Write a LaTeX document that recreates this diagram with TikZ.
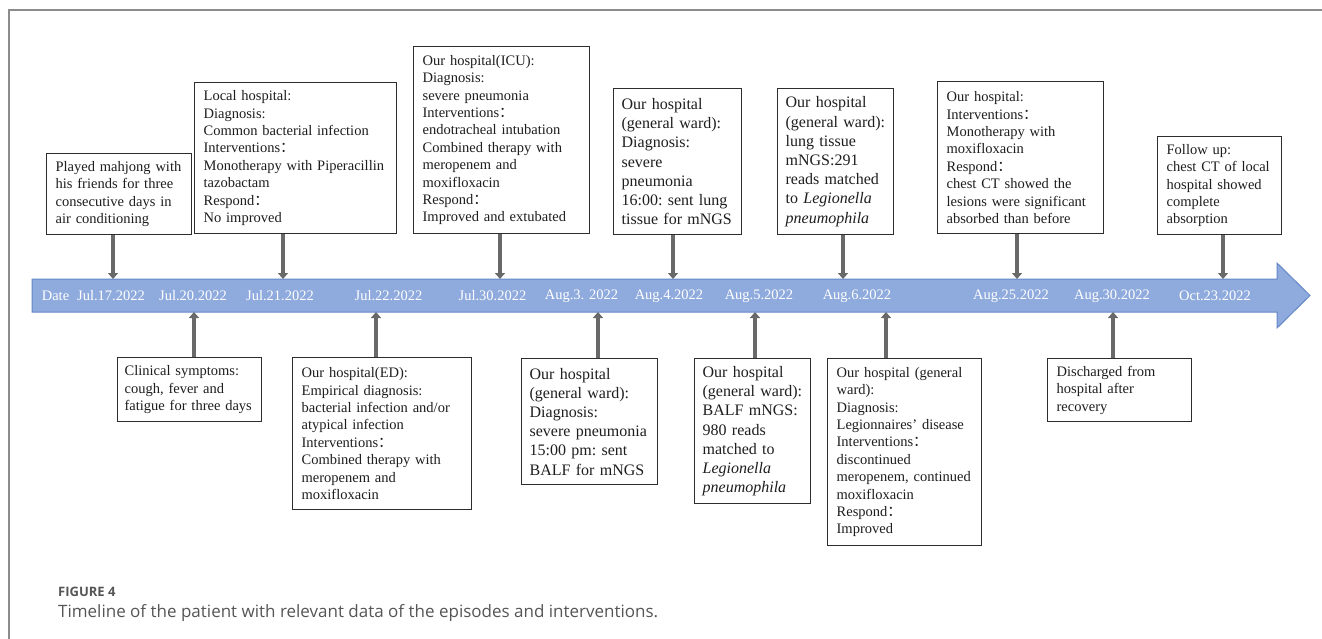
\documentclass[tikz,border=0pt]{standalone}
\usepackage{fontspec}
\setmainfont{Liberation Serif}
\newfontfamily\capfont{Open Sans}
\newfontfamily\cjkfont{Noto Sans CJK SC}
\newcommand{\fwc}{{\cjkfont ：}}
\usetikzlibrary{arrows.meta}
\definecolor{barfill}{RGB}{143,170,220}
\definecolor{baredge}{RGB}{100,135,200}
\definecolor{conncol}{RGB}{105,105,105}
\definecolor{boxedge}{RGB}{45,45,45}
\definecolor{boxtext}{RGB}{30,30,30}
\definecolor{frameg}{RGB}{140,140,140}
\definecolor{capg}{RGB}{85,85,85}
\tikzset{
  box/.style={draw=boxedge, line width=1.3pt, fill=white, align=left, anchor=north west,
    inner xsep=9pt, inner ysep=0pt, text=boxtext, font=\frenchspacing\fontsize{14.5}{17.4}\selectfont},
  bigbox/.style={box, inner xsep=8pt, font=\frenchspacing\fontsize{16}{19.2}\selectfont},
  datel/.style={text=white, inner sep=0pt, font=\rmfamily\fontsize{14.5}{17}\selectfont},
  conn/.style={draw=conncol, line width=4pt, -{Triangle[width=10pt,length=6pt]}},
  framel/.style={draw=frameg, line width=2pt},
  barshape/.style={fill=barfill, draw=baredge, line width=1pt},
}
\begin{document}
\begin{tikzpicture}[x=1pt,y=-1pt]
\useasboundingbox (0,0) rectangle (1322,639);
% frame
\draw[framel] (9,639) -- (9,10) -- (1322,10);
% timeline bar
\draw[barshape] (32,279) -- (1277,279) -- (1277,263) -- (1310,295.5) -- (1277,328) -- (1277,312) -- (32,312) -- cycle;
% dates
\node[datel] (d0) at (55.5,296) {Date};
\node[datel] (d1) at (111,296) {Jul.17.2022};
\node[datel] (d2) at (193,296) {Jul.20.2022};
\node[datel] (d3) at (280,296) {Jul.21.2022};
\node[datel] (d4) at (388.5,296) {Jul.22.2022};
\node[datel] (d5) at (492.5,296) {Jul.30.2022};
\node[datel] (d6) at (581.5,296) {Aug.3. 2022};
\node[datel] (d7) at (669,296) {Aug.4.2022};
\node[datel] (d8) at (759,296) {Aug.5.2022};
\node[datel] (d9) at (857,296) {Aug.6.2022};
\node[datel] (d10) at (1011,296) {Aug.25.2022};
\node[datel] (d11) at (1112,296) {Aug.30.2022};
\node[datel] (d12) at (1215,296) {Oct.23.2022};
% arrow tip coordinates
\coordinate (a1) at (113,279);
\coordinate (a2) at (283,279);
\coordinate (a3) at (500,279);
\coordinate (a4) at (673,279);
\coordinate (a5) at (843,279);
\coordinate (a6) at (1017,279);
\coordinate (a7) at (1223,279);
\coordinate (c1) at (194,312);
\coordinate (c2) at (376,312);
\coordinate (c3) at (598,312);
\coordinate (c4) at (755,312);
\coordinate (c5) at (886,312);
\coordinate (c6) at (1113,312);
% top boxes
\node[box, text width=127, minimum height=81] (t1) at (46,153)
  {Played mahjong with\\his friends for three\\consecutive days in\\air conditioning};
\node[box, text width=184, minimum height=151] (t2) at (194,82)
  {Local hospital:\\Diagnosis:\\Common bacterial infection\\Interventions\fwc\\Monotherapy with Piperacillin\\tazobactam\\Respond\fwc\\No improved};
\node[box, text width=158, minimum height=187] (t3) at (413,46)
  {Our hospital(ICU):\\Diagnosis:\\severe pneumonia\\Interventions\fwc\\endotracheal intubation\\Combined therapy with\\meropenem and\\moxifloxacin\\Respond\fwc\\Improved and extubated};
\node[bigbox, text width=112, minimum height=146] (t4) at (613,88)
  {Our hospital\\(general ward):\\Diagnosis:\\severe\\pneumonia\\16:00: sent lung\\tissue for mNGS};
\node[bigbox, text width=100, minimum height=146] (t5) at (777,88)
  {Our hospital\\(general ward):\\lung tissue\\mNGS:291\\reads matched\\to \textit{Legionella}\\\textit{pneumophila}};
\node[box, text width=148, minimum height=152] (t6) at (937,81)
  {Our hospital:\\Interventions\fwc\\Monotherapy with\\moxifloxacin\\Respond\fwc\\chest CT showed the\\lesions were significant\\absorbed than before};
\node[box, text width=106, minimum height=98] (t7) at (1157,136)
  {Follow up:\\chest CT of local\\hospital showed\\complete\\absorption};
% bottom boxes
\node[box, inner xsep=7pt, text width=130, minimum height=64] (b1) at (117,357)
  {Clinical symptoms:\\cough, fever and\\fatigue for three days};
\node[box, text width=161, minimum height=152] (b2) at (292,357)
  {Our hospital(ED):\\Empirical diagnosis:\\bacterial infection and/or\\atypical infection\\Interventions\fwc\\Combined therapy with\\meropenem and\\moxifloxacin};
\node[bigbox, text width=120, minimum height=126] (b3) at (521,358)
  {Our hospital\\(general ward):\\Diagnosis:\\severe pneumonia\\15:00 pm: sent\\BALF for mNGS};
\node[bigbox, text width=100, minimum height=145] (b4) at (694,358)
  {Our hospital\\(general ward):\\BALF mNGS:\\980 reads\\matched to\\\textit{Legionella}\\\textit{pneumophila}};
\node[box, text width=136, minimum height=187] (b5) at (827,358)
  {Our hospital (general\\ward):\\Diagnosis:\\Legionnaires’ disease\\Interventions\fwc\\discontinued\\meropenem, continued\\moxifloxacin\\Respond\fwc\\Improved};
\node[box, text width=126, minimum height=63] (b6) at (1047,358)
  {Discharged from\\hospital after\\recovery};
% connectors
\draw[conn] (t1.south -| a1) -- (a1);
\draw[conn] (t2.south -| a2) -- (a2);
\draw[conn] (t3.south -| a3) -- (a3);
\draw[conn] (t4.south -| a4) -- (a4);
\draw[conn] (t5.south -| a5) -- (a5);
\draw[conn] (t6.south -| a6) -- (a6);
\draw[conn] (t7.south -| a7) -- (a7);
\draw[conn] (b1.north -| c1) -- (c1);
\draw[conn] (b2.north -| c2) -- (c2);
\draw[conn] (b3.north -| c3) -- (c3);
\draw[conn] (b4.north -| c4) -- (c4);
\draw[conn] (b5.north -| c5) -- (c5);
\draw[conn] (b6.north -| c6) -- (c6);
% caption
\node[anchor=west, inner sep=0pt, text=capg, font=\capfont\bfseries\fontsize{13}{15}\selectfont] (fig) at (58,592) {FIGURE 4};
\node[anchor=west, inner sep=0pt, text=capg, font=\capfont\fontsize{17}{20}\selectfont] (cap) at (58,613) {Timeline of the patient with relevant data of the episodes and interventions.};
\end{tikzpicture}
\end{document}
